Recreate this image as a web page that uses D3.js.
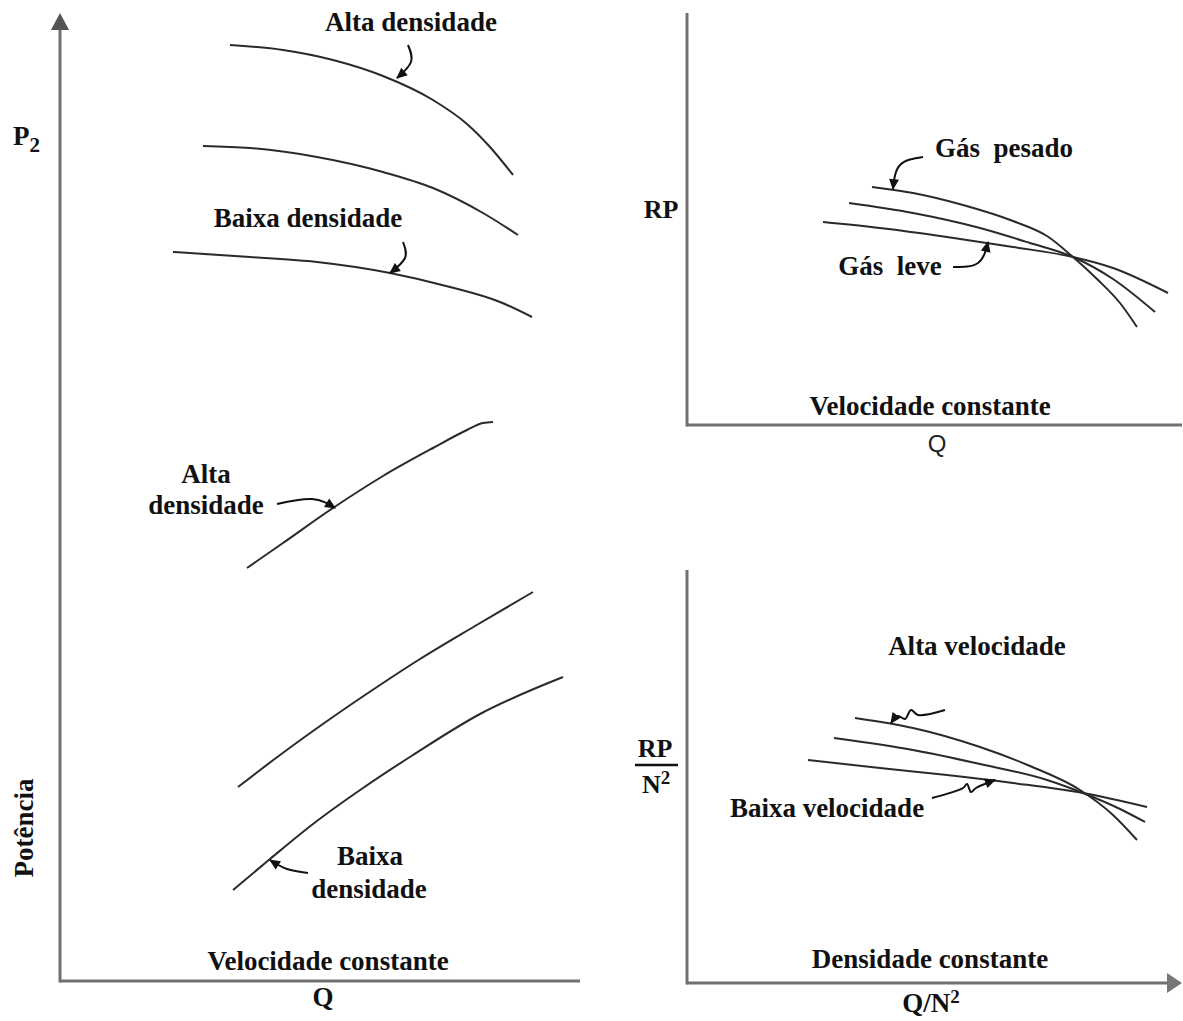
<!DOCTYPE html>
<html>
<head>
<meta charset="utf-8">
<script src="https://cdn.jsdelivr.net/npm/d3@7"></script>
<style>
  html, body { margin: 0; padding: 0; background: #fff; }
  svg text { font-family: "Liberation Serif", "Times New Roman", serif; font-weight: bold; fill: #111; }
</style>
</head>
<body>
<div id="chart"></div>
<script>
// ---- data (arbitrary units) ----
// left panel: P2 and power vs Q at constant speed
var p2Alta  = [[34,93.6],[44.6,93.1],[54.6,92.1],[64.6,90.5],[74.6,88.1],[81.4,85.7],[86,83.4],[90.6,80.6]];
var p2Media = [[28.6,83.5],[38,83.3],[51.4,82.4],[64.6,80.9],[74.6,79.3],[84.6,76.8],[91.6,74.6]];
var p2Baixa = [[22.6,72.9],[38,72.4],[51.4,71.9],[66,70.8],[78,69.4],[88,67.9],[94.4,66.4]];
var potAlta  = [[37.4,41.3],[44.6,43.8],[54.6,47.3],[64.6,50.5],[74.6,53.3],[81.4,55.1],[84.6,55.8],[86.6,55.9]];
var potMedia = [[35.6,19.4],[44,22.6],[54,26.2],[64,29.6],[72,32.2],[83,35.5],[94.6,38.9]];
var potBaixa = [[34.6,9.1],[42,12.2],[50.6,15.7],[60.6,19.3],[70.6,22.6],[84,26.7],[100.6,30.4]];

// top right: RP vs Q, constant speed
var rpPesado = [[37,23.8],[45.2,23.2],[55.2,22],[65.2,20.4],[72,18.9],[77.2,16.8],[82,14.6],[86.6,12.2],[90,9.8]];
var rpMedio  = [[32.4,22.2],[45.2,21.2],[58.6,19.7],[68.6,18.2],[77.2,16.8],[85.2,14.6],[93.6,11.3]];
var rpLeve   = [[27.2,20.3],[38.6,19.7],[52,18.8],[65.2,17.8],[77.2,16.8],[85.2,15.7],[96.2,13.2]];

// bottom right: RP/N^2 vs Q/N^2, constant density
var rpnAlta  = [[33.6,26.5],[45.2,25.5],[58.6,23.6],[68.6,21.7],[78.6,19.3],[85.2,16.8],[90,14.3]];
var rpnMedia = [[29.4,24.5],[45.2,23.3],[58.6,21.9],[72,20.3],[79.2,19],[86.6,17.4],[91.6,16.1]];
var rpnBaixa = [[24.2,22.3],[38.6,21.5],[52,20.8],[65.2,20],[79.2,19],[92,17.6]];

// pointer arrows (same units as their panel)
var arrowsLeft = [
    [[69.6,93.6],[70.2,91.9],[67.4,90.3]],
    [[68.6,73.9],[69,72.3],[66,70.8]],
    [[43.4,47.7],[50.4,48.2],[55,47.3]],
    [[49.6,10.8],[45.4,11.2],[42,12.1]]
];
var arrowsTop = [
    [[47.2,26.8],[42.6,26],[41.2,23.6]],
    [[53.2,15.8],[58.2,16.2],[60.2,18.3]]
];
var arrowsBottom = [
    [[51.6,27.3],[46.2,26.8],[44.8,27.3],[43.6,26.4],[42.2,26.7],[40.8,26]],
    [[49,18.5],[55.2,19.5],[56,19.9],[56.8,19.1],[57.8,19.5],[61.6,20.3]]
];

// ---- setup ----
var W = 1183, H = 1021;
var svg = d3.select("#chart").append("svg")
            .attr("width", W)
            .attr("height", H);

var defs = svg.append("defs");
defs.append("marker")
    .attr("id", "ah")
    .attr("viewBox", "0 0 10 10")
    .attr("refX", 9).attr("refY", 5)
    .attr("markerWidth", 12).attr("markerHeight", 11)
    .attr("markerUnits", "userSpaceOnUse")
    .attr("orient", "auto")
    .append("path")
    .attr("d", "M0,0.5 L10,5 L0,9.5 z")
    .attr("fill", "#111");

// scales per panel
var xL = d3.scaleLinear().domain([0, 104]).range([60, 580]);
var yL = d3.scaleLinear().domain([0, 96.8]).range([981, 13]);
var xT = d3.scaleLinear().domain([0, 99]).range([687, 1182]);
var yT = d3.scaleLinear().domain([0, 41.2]).range([425, 13]);
var xB = d3.scaleLinear().domain([0, 99]).range([687, 1182]);
var yB = d3.scaleLinear().domain([0, 41.3]).range([983, 570]);

var axisColor = "#707070";

function drawAxes(x, y, opts)
{
    var g = svg.append("g");
    var xr = x.range(), yr = y.range();
    var xEnd = opts.xArrow ? xr[1] - 12 : xr[1];
    var yEnd = opts.yArrow ? yr[1] + 14 : yr[1];
    g.append("line")
     .attr("x1", xr[0]).attr("x2", xEnd)
     .attr("y1", yr[0]).attr("y2", yr[0])
     .attr("stroke", axisColor).attr("stroke-width", 3);
    g.append("line")
     .attr("x1", xr[0]).attr("x2", xr[0])
     .attr("y1", yr[0] + 1.5).attr("y2", yEnd)
     .attr("stroke", axisColor).attr("stroke-width", 3);
    if (opts.yArrow) {
        g.append("path")
         .attr("d", "M" + (xr[0] - 9) + "," + (yr[1] + 17) + " L" + xr[0] + "," + yr[1] +
                    " L" + (xr[0] + 9) + "," + (yr[1] + 17) + " z")
         .attr("fill", "#555");
    }
    if (opts.xArrow) {
        g.append("path")
         .attr("d", "M" + (xr[1] - 15) + "," + (yr[0] - 10) + " L" + xr[1] + "," + yr[0] +
                    " L" + (xr[1] - 15) + "," + (yr[0] + 10) + " z")
         .attr("fill", "#777");
    }
}

drawAxes(xL, yL, { yArrow: true });
drawAxes(xT, yT, {});
drawAxes(xB, yB, { xArrow: true });

function drawCurves(x, y, list)
{
    var line = d3.line()
                 .x(function(d) { return x(d[0]); })
                 .y(function(d) { return y(d[1]); })
                 .curve(d3.curveMonotoneX);
    svg.append("g").selectAll("path")
       .data(list)
       .enter().append("path")
       .attr("d", line)
       .attr("fill", "none")
       .attr("stroke", "#2a2a2a")
       .attr("stroke-width", 2);
}

drawCurves(xL, yL, [p2Alta, p2Media, p2Baixa, potAlta, potMedia, potBaixa]);
drawCurves(xT, yT, [rpPesado, rpMedio, rpLeve]);
drawCurves(xB, yB, [rpnAlta, rpnMedia, rpnBaixa]);

function drawArrows(x, y, list, curve)
{
    var line = d3.line()
                 .x(function(d) { return x(d[0]); })
                 .y(function(d) { return y(d[1]); })
                 .curve(curve);
    svg.append("g").selectAll("path")
       .data(list)
       .enter().append("path")
       .attr("d", line)
       .attr("fill", "none")
       .attr("stroke", "#111")
       .attr("stroke-width", 2)
       .attr("marker-end", "url(#ah)");
}

drawArrows(xL, yL, arrowsLeft, d3.curveNatural);
drawArrows(xT, yT, arrowsTop, d3.curveNatural);
drawArrows(xB, yB, arrowsBottom, d3.curveCatmullRom.alpha(0.5));

// ---- text ----
function label(txt, x, y, size, anchor)
{
    return svg.append("text")
              .attr("x", x).attr("y", y)
              .attr("font-size", size)
              .attr("text-anchor", anchor || "middle")
              .style("white-space", "pre")
              .text(txt);
}

// left panel
label("Alta densidade", 411, 31, 27);
label("Baixa densidade", 308, 227, 27);
label("Alta", 206, 483, 27);
label("densidade", 206, 514, 27);
label("Baixa", 370, 865, 27);
label("densidade", 369, 898, 27);
label("Velocidade constante", 328, 970, 27);
label("Q", 323, 1006, 27);

var p2 = svg.append("text").attr("x", 13).attr("y", 145).attr("font-size", 27);
p2.append("tspan").text("P");
p2.append("tspan").attr("font-size", 21).attr("dy", 7).text("2");

svg.append("text")
   .attr("transform", "translate(33,828) rotate(-90)")
   .attr("font-size", 27)
   .attr("text-anchor", "middle")
   .text("Potência");

// top right panel
label("RP", 661, 218, 26);
label("Gás  pesado", 1004, 157, 27);
label("Gás  leve", 890, 275, 27);
label("Velocidade constante", 930, 415, 27);
svg.append("text")
   .attr("x", 937).attr("y", 452)
   .attr("font-size", 24)
   .attr("text-anchor", "middle")
   .style("font-family", "'Liberation Sans', Arial, sans-serif")
   .style("font-weight", "normal")
   .style("fill", "#222")
   .text("Q");

// bottom right panel
label("Alta velocidade", 977, 655, 27);
label("Baixa velocidade", 827, 817, 27);
label("Densidade constante", 930, 968, 27);
var qn = svg.append("text").attr("x", 931).attr("y", 1012).attr("font-size", 27).attr("text-anchor", "middle");
qn.append("tspan").text("Q/N");
qn.append("tspan").attr("font-size", 19).attr("dy", -9).text("2");

label("RP", 655, 757, 26);
svg.append("line")
   .attr("x1", 635).attr("x2", 678)
   .attr("y1", 765).attr("y2", 765)
   .attr("stroke", "#111").attr("stroke-width", 2.5);
var n2 = svg.append("text").attr("x", 642).attr("y", 793).attr("font-size", 26);
n2.append("tspan").text("N");
n2.append("tspan").attr("font-size", 19).attr("dy", -9).text("2");
</script>
</body>
</html>
